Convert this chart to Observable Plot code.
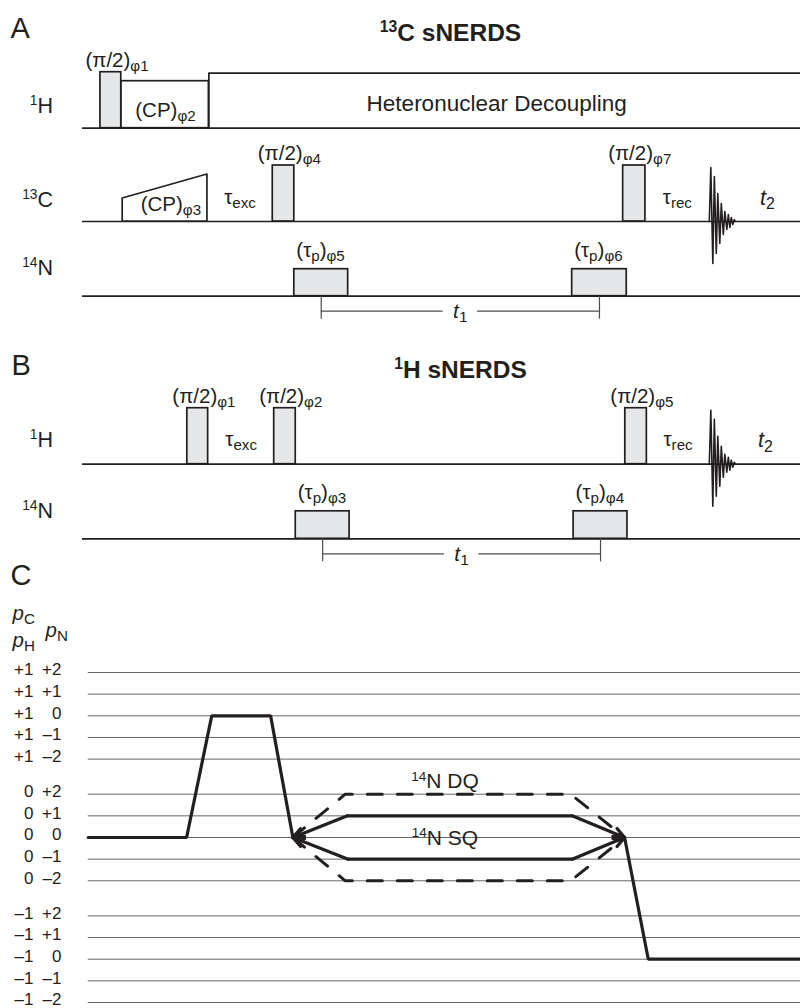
<!DOCTYPE html>
<html><head><meta charset="utf-8">
<script src="https://cdn.jsdelivr.net/npm/d3@7"></script>
<script src="https://cdn.jsdelivr.net/npm/@observablehq/plot@0.6"></script>
<style>
html,body{margin:0;padding:0;background:#fff;overflow:hidden}
#fig{width:800px;background:#fff}
#fig svg{display:block;overflow:visible;position:relative}
</style></head><body><div id="fig"></div>
<script>
// ================= DATA =================
// time axis in arbitrary sequence units (0 = start, 100 = end of shown window)
const seqWindow = [0, 100];

// ---- Panel A: 13C sNERDS ----
const channelsA = [
  {ch: "1H", name: "^{1}H"},
  {ch: "13C", name: "^{13}C"},
  {ch: "14N", name: "^{14}N"}
];
const hardPulsesA = [
  {ch: "1H", start: 2.5, end: 5.4, amp: 56, label: "(π/2)_{φ1}"},
  {ch: "13C", start: 26.5, end: 29.5, amp: 56, label: "(π/2)_{φ4}"},
  {ch: "13C", start: 75.3, end: 78.4, amp: 56, label: "(π/2)_{φ7}"}
];
const nPulsesA = [
  {ch: "14N", start: 29.5, end: 37.0, amp: 27, label: "(τ_{p})_{φ5}"},
  {ch: "14N", start: 68.2, end: 75.8, amp: 27, label: "(τ_{p})_{φ6}"}
];
const cpBlocksA = [{ch: "1H", start: 5.4, end: 17.6, amp: 47, label: "(CP)_{φ2}"}];
const decouplingA = [{ch: "1H", start: 17.6, end: 100, amp: 55, label: "Heteronuclear Decoupling"}];
const cpRampA = [{ch: "13C", t: 5.6, amp: 23}, {ch: "13C", t: 17.4, amp: 47}];
const cpRampLabelsA = ["(CP)_{φ3}"];
const delaysA = [
  {ch: "13C", from: 17.4, to: 26.5, label: "τ_{exc}"},
  {ch: "13C", from: 78.4, to: 87.3, label: "τ_{rec}"}
];
const acquisitionA = [{ch: "13C", start: 87.3, label: "*t*_{2}"}];
const t1LabelsA = ["*t*_{1}"];

// ---- Panel B: 1H sNERDS ----
const channelsB = [
  {ch: "1H", name: "^{1}H"},
  {ch: "14N", name: "^{14}N"}
];
const hardPulsesB = [
  {ch: "1H", start: 14.6, end: 17.5, amp: 56, label: "(π/2)_{φ1}"},
  {ch: "1H", start: 26.7, end: 29.7, amp: 56, label: "(π/2)_{φ2}"},
  {ch: "1H", start: 75.6, end: 78.6, amp: 56, label: "(π/2)_{φ5}"}
];
const nPulsesB = [
  {ch: "14N", start: 29.7, end: 37.2, amp: 27.5, label: "(τ_{p})_{φ3}"},
  {ch: "14N", start: 68.4, end: 75.9, amp: 27.5, label: "(τ_{p})_{φ4}"}
];
const delaysB = [
  {ch: "1H", from: 17.5, to: 26.7, label: "τ_{exc}"},
  {ch: "1H", from: 78.6, to: 87.3, label: "τ_{rec}"}
];
const acquisitionB = [{ch: "1H", start: 87.3, label: "*t*_{2}"}];
const t1LabelsB = ["*t*_{1}"];

// ---- FID (shared shape): time after acquisition start, signal amplitude ----
const fidDt  = [0, 0.21, 0.49, 0.70, 0.97, 1.18, 1.46, 1.67, 1.95, 2.16, 2.44, 2.65, 2.86, 3.06, 3.27, 3.48, 3.62];
const fidAmp = [0, 54, -42, 45, -32, 28, -22, 18, -13, 10, -8, 7, -6, 4, -3, 2, 0];

// ---- Panel C: coherence transfer pathway ----
const pCLevels = [1, 0, -1];
const pNLevels = [2, 1, 0, -1, -2];
const pCTickLabels = ["+1", "0", "–1"];
const pNTickLabels = ["+2", "+1", "0", "–1", "–2"];
// [time, pC(or pH), pN]
const pathMain    = [[0.8, 0, 0], [14.5, 0, 0], [18.0, 1, 0], [26.2, 1, 0], [29.3, 0, 0]];
const pathSQplus  = [[29.3, 0, 0], [36.9, 0, 1], [68.2, 0, 1], [75.5, 0, 0]];
const pathSQminus = [[29.3, 0, 0], [37.0, 0, -1], [68.2, 0, -1], [75.5, 0, 0]];
const pathDQplus  = [[29.3, 0, 0], [36.6, 0, 2], [68.0, 0, 2], [75.5, 0, 0]];
const pathDQminus = [[29.3, 0, 0], [36.6, 0, -2], [68.0, 0, -2], [75.5, 0, 0]];
const pathEnd     = [[75.5, 0, 0], [78.8, -1, 0], [100, -1, 0]];
const pathwayLabels = ["^{14}N DQ", "^{14}N SQ"];
const gridStart = 0.8;

// ================= LAYOUT / STYLE =================
const FONT = "'Liberation Sans', Arial, Helvetica, sans-serif";
const INK = "#231f20";
const PULSE_FILL = "#e6e7e8";
const X = {domain: [-11.42, 100], range: [0, 800], axis: null};
const SVG_STYLE = {fontFamily: FONT, background: "transparent", overflow: "visible"};

function rich(svg) {
  const NS = "http://www.w3.org/2000/svg";
  svg.querySelectorAll("text").forEach(t => {
    const s = t.textContent;
    if (!/[_^*]/.test(s)) return;
    const fs = parseFloat(getComputedStyle(t).fontSize) || 16;
    while (t.firstChild) t.removeChild(t.firstChild);
    const re = /_\{([^}]*)\}|\^\{([^}]*)\}|\*([^*]*)\*|([^_^*]+)/g;
    let m, off = 0;
    while ((m = re.exec(s))) {
      let txt, shift = 0, size = fs, ital = false;
      if (m[1] != null) { txt = m[1]; shift = 0.2 * fs; size = 0.74 * fs; }
      else if (m[2] != null) { txt = m[2]; shift = -0.36 * fs; size = 0.64 * fs; }
      else if (m[3] != null) { txt = m[3]; ital = true; }
      else txt = m[4];
      const sp = document.createElementNS(NS, "tspan");
      sp.textContent = txt;
      sp.setAttribute("font-size", size);
      if (shift !== off) { sp.setAttribute("dy", shift - off); off = shift; }
      if (ital) sp.setAttribute("font-style", "italic");
      t.appendChild(sp);
    }
  });
}

function seqPanel(cfg) {
  const {height, base, nameLift} = cfg;
  const b = d => base[d.ch];
  const marks = [];
  // channel baselines
  marks.push(Plot.ruleY(cfg.channels, {y: b, x1: seqWindow[0], x2: seqWindow[1], stroke: INK, strokeWidth: 1.7}));
  // CP ramp (13C) and CP block (1H)
  if (cfg.ramp) {
    marks.push(Plot.areaY(cfg.ramp, {x: "t", y1: b, y2: d => b(d) + d.amp, fill: "white", stroke: INK, strokeWidth: 1.7}));
    marks.push(Plot.text(cfg.rampLabels, {x: cfg.ramp[0].t, y: base[cfg.ramp[0].ch], text: d => d, textAnchor: "start", lineAnchor: "bottom", dx: 18, dy: -10.5, fontSize: 20.5, fill: INK}));
  }
  if (cfg.blocks) {
    marks.push(Plot.rect(cfg.blocks, {x1: "start", x2: "end", y1: b, y2: d => b(d) + d.amp, fill: "white", stroke: INK, strokeWidth: 1.7}));
    marks.push(Plot.text(cfg.blocks, {x: "start", y: b, text: "label", textAnchor: "start", lineAnchor: "bottom", dx: 14, dy: -11.7, fontSize: 20.5, fill: INK}));
  }
  if (cfg.decoupling) {
    const outline = cfg.decoupling.flatMap(d => [
      {t: d.start, v: b(d)}, {t: d.start, v: b(d) + d.amp}, {t: d.end, v: b(d) + d.amp}
    ]);
    marks.push(Plot.line(outline, {x: "t", y: "v", stroke: INK, strokeWidth: 1.7}));
    marks.push(Plot.text(cfg.decoupling, {x: d => (d.start + d.end) / 2, y: b, text: "label", textAnchor: "middle", lineAnchor: "bottom", dx: -8, dy: -17.7, fontSize: 22.5, fill: INK}));
  }
  // hard pulses
  marks.push(Plot.rect(cfg.hard, {x1: "start", x2: "end", y1: b, y2: d => b(d) + d.amp, fill: PULSE_FILL, stroke: INK, strokeWidth: 1.7}));
  marks.push(Plot.text(cfg.hard, {x: "start", y: d => b(d) + d.amp, text: "label", textAnchor: "start", lineAnchor: "bottom", dx: -15, dy: -5.5, fontSize: 20.5, fill: INK}));
  // 14N pulses
  marks.push(Plot.rect(cfg.npulses, {x1: "start", x2: "end", y1: b, y2: d => b(d) + d.amp, fill: PULSE_FILL, stroke: INK, strokeWidth: 1.7}));
  marks.push(Plot.text(cfg.npulses, {x: "start", y: d => b(d) + d.amp, text: "label", textAnchor: "start", lineAnchor: "bottom", dx: 2, dy: -12, fontSize: 20.5, fill: INK}));
  // t1 bracket between 14N pulse centres
  const c = cfg.npulses.map(d => (d.start + d.end) / 2);
  const nb = base[cfg.npulses[0].ch];
  const mid = (c[0] + c[1]) / 2, gap = 2.4;
  marks.push(Plot.ruleX(c, {x: d => d, y1: nb, y2: nb - 23, stroke: "#4d4d4f", strokeWidth: 1.2}));
  marks.push(Plot.ruleY([[c[0], mid - gap], [mid + gap, c[1]]], {y: nb - 15, x1: d => d[0], x2: d => d[1], stroke: "#4d4d4f", strokeWidth: 1.2}));
  marks.push(Plot.text(cfg.t1Labels, {x: mid, y: nb - 15, text: d => d, textAnchor: "middle", lineAnchor: "middle", fontSize: 21, fill: INK}));
  // delay labels
  marks.push(Plot.text(cfg.delays, {x: d => (d.from + d.to) / 2, y: b, text: "label", textAnchor: "middle", lineAnchor: "bottom", dy: -18, fontSize: 20.5, fill: INK}));
  // FID + acquisition label
  const acq = cfg.acq[0];
  const fid = fidDt.map((dt, i) => ({t: acq.start + dt, v: base[acq.ch] + fidAmp[i]}));
  marks.push(Plot.line(fid, {x: "t", y: "v", stroke: INK, strokeWidth: 1.6}));
  marks.push(Plot.text(cfg.acq, {x: "start", y: b, text: "label", textAnchor: "middle", lineAnchor: "bottom", dx: cfg.acqDx, dy: -17, fontSize: 21.5, fill: INK}));
  // channel names
  marks.push(Plot.text(cfg.channels, {y: d => b(d) + nameLift[d.ch], text: "name", frameAnchor: "left", dx: 52.5, textAnchor: "end", lineAnchor: "bottom", fontSize: 21.5, fill: INK}));
  // panel letter & title
  marks.push(Plot.text([cfg.letter], {text: d => d, frameAnchor: "top-left", dx: cfg.letterDx, dy: cfg.letterDy, textAnchor: "start", lineAnchor: "bottom", fontSize: 29, fill: INK}));
  marks.push(Plot.text([cfg.title], {text: d => d, frameAnchor: "top", dx: cfg.titleDx, dy: cfg.titleDy, textAnchor: "middle", lineAnchor: "bottom", fontSize: 24.5, fontWeight: "bold", fill: INK}));
  return Plot.plot({
    width: 800, height, margin: 0,
    x: X,
    y: {domain: [0, height], range: [height, 0], axis: null},
    style: SVG_STYLE,
    marks
  });
}

const fig = document.getElementById("fig");
const svgA = seqPanel({
  height: 330,
  base: {"1H": 202.3, "13C": 109, "14N": 34.3},
  nameLift: {"1H": 15, "13C": 15, "14N": 21},
  channels: channelsA, hard: hardPulsesA, npulses: nPulsesA,
  blocks: cpBlocksA, decoupling: decouplingA, ramp: cpRampA, rampLabels: cpRampLabelsA,
  delays: delaysA, acq: acquisitionA, acqDx: 58, t1Labels: t1LabelsA,
  letter: "A", letterDx: 10, letterDy: 37, title: "^{13}C sNERDS", titleDx: 50, titleDy: 40.5
});
const svgB = seqPanel({
  height: 230,
  base: {"1H": 96.3, "14N": 21.7},
  nameLift: {"1H": 17, "14N": 21},
  channels: channelsB, hard: hardPulsesB, npulses: nPulsesB,
  delays: delaysB, acq: acquisitionB, acqDx: 56, t1Labels: t1LabelsB,
  letter: "B", letterDx: 11, letterDy: 44, title: "^{1}H sNERDS", titleDx: 60, titleDy: 47
});

// ---- Panel C ----
const groupGap = 1.62;
const vC = (pc, pn) => pc * (4 + groupGap) + pn;
const yTop = vC(1, 2);
const levelRows = pCLevels.flatMap((pc, i) => pNLevels.map((pn, j) => ({pc, pn, pcLabel: pCTickLabels[i], pnLabel: pNTickLabels[j]})));
const px = d => d[0], py = d => vC(d[1], d[2]);
const lineOpts = {x: px, y: py, stroke: INK, strokeWidth: 3.2, strokeLinejoin: "miter"};
const arrows = [
  {a: pathSQplus[1], b: pathSQplus[0]}, {a: pathSQplus[2], b: pathSQplus[3]},
  {a: pathSQminus[1], b: pathSQminus[0]}, {a: pathSQminus[2], b: pathSQminus[3]}
];
const dqMid = (pathDQplus[1][0] + pathDQplus[2][0]) / 2;
const svgC = Plot.plot({
  width: 800, height: 448, margin: 0,
  x: X,
  y: {domain: [-yTop, yTop], range: [442, 112], axis: null},
  style: SVG_STYLE,
  marks: [
    Plot.ruleY(levelRows, {y: d => vC(d.pc, d.pn), x1: gridStart, x2: seqWindow[1], stroke: "#666", strokeWidth: 1}),
    Plot.text(levelRows, {y: d => vC(d.pc, d.pn), text: "pcLabel", frameAnchor: "left", dx: 33, dy: -2.5, textAnchor: "end", lineAnchor: "middle", fontSize: 17, fill: INK}),
    Plot.text(levelRows, {y: d => vC(d.pc, d.pn), text: "pnLabel", frameAnchor: "left", dx: 61, dy: -2.5, textAnchor: "end", lineAnchor: "middle", fontSize: 17, fill: INK}),
    Plot.line(pathDQplus, {...lineOpts, strokeWidth: 3, strokeDasharray: "15,15"}),
    Plot.line(pathDQminus, {...lineOpts, strokeWidth: 3, strokeDasharray: "15,15"}),
    Plot.line(pathMain, lineOpts),
    Plot.line(pathSQplus.slice(1, 3), lineOpts),
    Plot.line(pathSQminus.slice(1, 3), lineOpts),
    Plot.arrow(arrows, {x1: d => d.a[0], y1: d => vC(d.a[1], d.a[2]), x2: d => d.b[0], y2: d => vC(d.b[1], d.b[2]), stroke: INK, strokeWidth: 3.2, headLength: 5.5, headAngle: 55}),
    Plot.line(pathEnd, lineOpts),
    Plot.text([pathwayLabels[0]], {x: dqMid, y: vC(0, 2), text: d => d, textAnchor: "middle", lineAnchor: "bottom", dx: -13, dy: -6, fontSize: 21, fill: INK}),
    Plot.text([pathwayLabels[1]], {x: dqMid, y: vC(0, 0), text: d => d, textAnchor: "middle", lineAnchor: "bottom", dx: -13, dy: 7, fontSize: 21, fill: INK}),
    Plot.text(["C"], {text: d => d, frameAnchor: "top-left", dx: 10, dy: 24, lineAnchor: "bottom", fontSize: 29, fill: INK}),
    Plot.text(["*p*_{C}"], {text: d => d, frameAnchor: "top-left", dx: 12, dy: 59, lineAnchor: "bottom", fontSize: 20.5, fill: INK}),
    Plot.text(["*p*_{H}"], {text: d => d, frameAnchor: "top-left", dx: 12, dy: 86, lineAnchor: "bottom", fontSize: 20.5, fill: INK}),
    Plot.text(["*p*_{N}"], {text: d => d, frameAnchor: "top-left", dx: 45, dy: 76, lineAnchor: "bottom", fontSize: 20.5, fill: INK})
  ]
});

for (const s of [svgA, svgB, svgC]) { fig.appendChild(s); rich(s); }
</script>
</body></html>
